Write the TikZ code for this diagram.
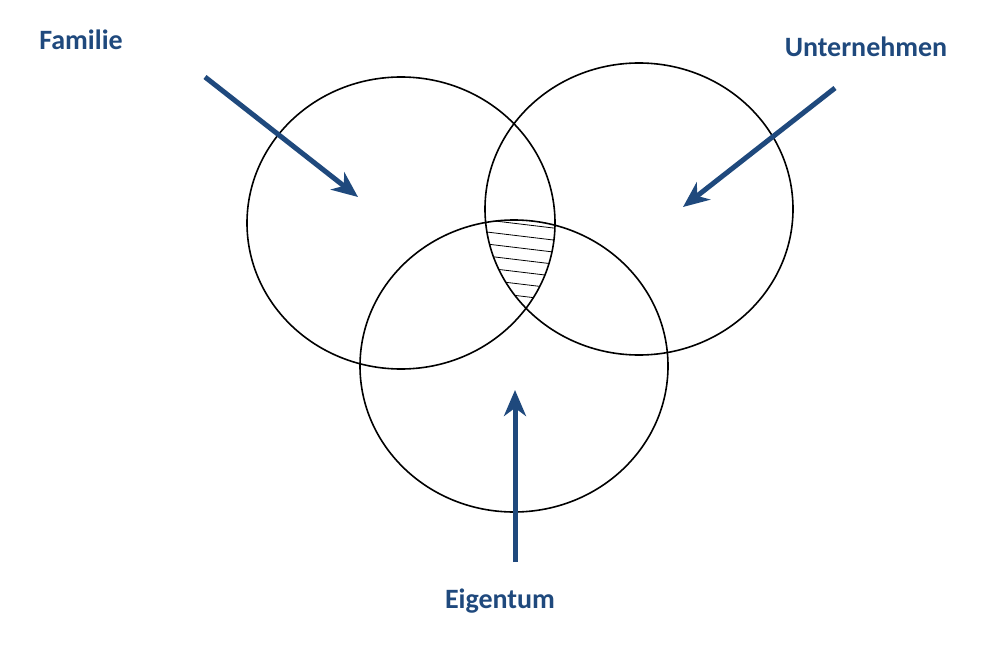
\documentclass[tikz,border=0pt]{standalone}
\usepackage{fontspec}
\setmainfont{Carlito}
\usetikzlibrary{arrows.meta}
\definecolor{lblue}{RGB}{31,73,125}

\begin{document}
\begin{tikzpicture}[x=1pt,y=-1pt, ring/.style={draw,line width=1.6pt}, pointer/.style={lblue,line width=5pt,-{Stealth[length=26pt,width=22pt,inset=8pt]}}, label/.style={lblue,font=\bfseries\fontsize{28}{30}\selectfont}]
 \useasboundingbox (0,0) rectangle (1001,645);

 \coordinate (F) at (401,223);
 \coordinate (U) at (639,209);
 \coordinate (E) at (514,366);

 % hatched part
 \begin{scope}
  \clip (F) ellipse [x radius=154,y radius=146];
  \clip (U) ellipse [x radius=154,y radius=146];
  \clip (E) ellipse [x radius=154,y radius=146];
  \foreach \y in {218,230,...,320}
   \draw[line width=0.8pt] (470,\y) -- (570,\y+12);
 \end{scope}

 \draw[ring] (F) ellipse [x radius=154,y radius=146];
 \draw[ring] (U) ellipse [x radius=154,y radius=146];
 \draw[ring] (E) ellipse [x radius=154,y radius=146];

 \node[label] (fam) at (81,40) {Familie};
 \node[label] (unt) at (866,47) {Unternehmen};
 \node[label] (eig) at (500,601) {Eigentum};

 \coordinate (f0) at (205,77);
 \coordinate (f1) at (358,197);
 \coordinate (u0) at (835,88);
 \coordinate (u1) at (683,207);
 \coordinate (e0) at (515,562);
 \coordinate (e1) at (515,390);
 \draw[pointer] (f0) -- (f1);
 \draw[pointer] (u0) -- (u1);
 \draw[pointer] (e0) -- (e1);

\end{tikzpicture}
\end{document}
